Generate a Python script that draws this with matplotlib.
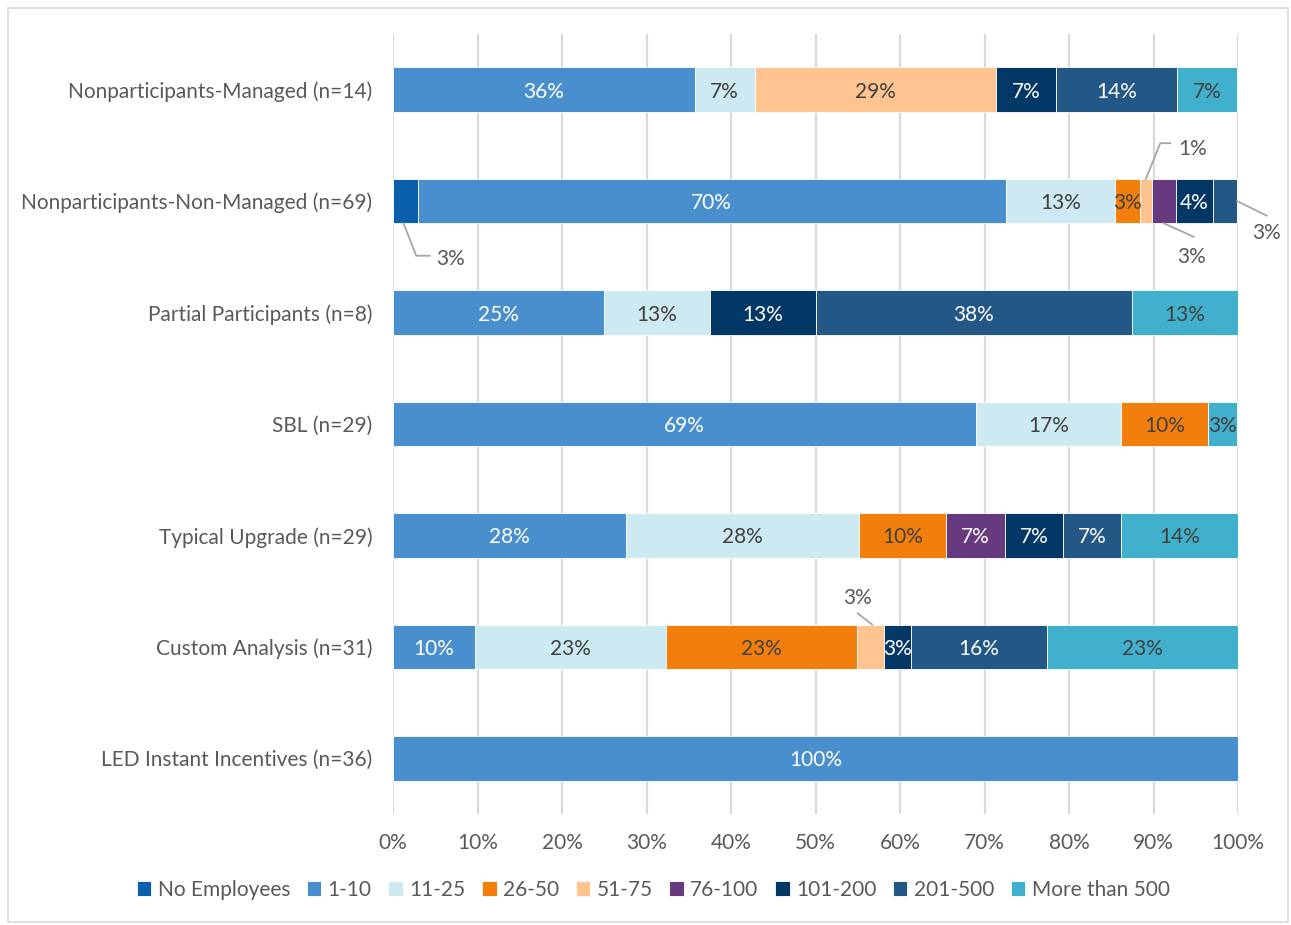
import math
import matplotlib.pyplot as plt
from matplotlib.patches import Rectangle
import numpy as np

plt.rcParams['font.family'] = ['Lato', 'DejaVu Sans']

categories = [
    "Nonparticipants-Managed (n=14)",
    "Nonparticipants-Non-Managed (n=69)",
    "Partial Participants (n=8)",
    "SBL (n=29)",
    "Typical Upgrade (n=29)",
    "Custom Analysis (n=31)",
    "LED Instant Incentives (n=36)",
]

groups = ["No Employees", "1-10", "11-25", "26-50", "51-75",
          "76-100", "101-200", "201-500", "More than 500"]

# share of respondents (%) per employee-size group, one list per category
managed = [0, 35.7, 7.1, 0, 28.6, 0, 7.1, 14.3, 7.1]
non_managed = [2.9, 69.6, 13.0, 2.9, 1.4, 2.9, 4.3, 2.9, 0]
partial = [0, 25.0, 12.5, 0, 0, 0, 12.5, 37.5, 12.5]
sbl = [0, 69.0, 17.2, 10.3, 0, 0, 0, 0, 3.4]
typical = [0, 27.6, 27.6, 10.3, 0, 6.9, 6.9, 6.9, 13.8]
custom = [0, 9.7, 22.6, 22.6, 3.2, 0, 3.2, 16.1, 22.6]
led = [0, 100.0, 0, 0, 0, 0, 0, 0, 0]

colors = ["#0A5FAD", "#4A8FCD", "#CDE9F2", "#F27F0C", "#FFC48F",
          "#673A80", "#033766", "#235785", "#41B0CC"]
text_colors = ["white", "white", "#404040", "#404040", "#404040",
               "white", "white", "white", "#404040"]

# segments labelled outside the bar with a leader line:
# (row, group) -> anchor side, leader points (offsets), label offset, alignment
outside = {
    (1, 0): ("bottom", [(0, 0), (1.5, 0.29), (3.1, 0.29)], (3.9, 0.30), "left"),
    (1, 4): ("top", [(0, 0), (1.7, -0.32), (2.9, -0.32)], (3.8, -0.29), "left"),
    (1, 5): ("bottom", [(0, 0), (3.5, 0.12)], (3.2, 0.28), "center"),
    (1, 7): ("right", [(0, 0), (3.5, 0.13)], (3.5, 0.27), "center"),
    (5, 4): ("top", [(0.2, 0), (-1.5, -0.10)], (-1.5, -0.26), "center"),
}

data = np.array([managed, non_managed, partial, sbl, typical, custom, led])
label_color = "#595959"
fs = 15


def pct(v):
    return f"{math.floor(v + 0.5)}%"


fig = plt.figure(figsize=(12.91, 9.25), dpi=100)
ax = fig.add_axes([393 / 1291, 1 - 814 / 925, 845 / 1291, 780 / 925])

y = np.arange(len(categories))
bar_h = 0.4
left = np.zeros(len(categories))
for j, g in enumerate(groups):
    vals = data[:, j]
    ax.barh(y, vals, left=left, height=bar_h, color=colors[j],
            edgecolor="white", linewidth=0.6, label=g, zorder=3)
    for i, v in enumerate(vals):
        if v <= 0:
            continue
        cx = left[i] + v / 2
        txt = pct(v)
        if (i, j) in outside:
            side, pts, lab, ha = outside[(i, j)]
            if side == "bottom":
                ax0, ay0 = cx - 0.2 if j == 0 else cx, y[i] + bar_h / 2
            elif side == "top":
                ax0, ay0 = cx, y[i] - bar_h / 2
            else:
                ax0, ay0 = left[i] + v, y[i]
            xs = [ax0 + p[0] for p in pts]
            ys = [ay0 + p[1] for p in pts]
            ax.plot(xs, ys, color="#A6A6A6", lw=1.3, clip_on=False, zorder=4)
            ax.text(ax0 + lab[0], ay0 + lab[1], txt, ha=ha, va="center_baseline",
                    fontsize=fs, color=label_color, clip_on=False)
        else:
            ax.text(cx, y[i], txt, ha="center", va="center_baseline",
                    fontsize=fs, color=text_colors[j], zorder=5)
    left += vals

ax.set_xlim(0, 100)
ax.set_ylim(len(categories) - 0.5, -0.5)
ax.set_yticks(y)
ax.set_yticklabels(categories)
ax.set_xticks(np.arange(0, 101, 10))
ax.set_xticklabels([f"{t}%" for t in range(0, 101, 10)])
ax.tick_params(axis="both", length=0, labelsize=fs, labelcolor=label_color)
ax.tick_params(axis="y", pad=15)
ax.tick_params(axis="x", pad=14)
for s in ax.spines.values():
    s.set_visible(False)
ax.xaxis.grid(True, color="#D9D9D9", lw=1.6, zorder=0)
ax.set_axisbelow(True)

fig.legend(loc="center", bbox_to_anchor=(0.506, 1 - 890 / 925), ncol=9,
           frameon=False, fontsize=fs, handlelength=0.7, handleheight=0.7,
           handletextpad=0.3, columnspacing=0.8, labelcolor=label_color)

fig.patches.append(Rectangle((8 / 1291, 1 - 922 / 925), 1280 / 1291, 914 / 925,
                             transform=fig.transFigure, fill=False,
                             edgecolor="#D9D9D9", lw=1.2))

fig.savefig("out.png", dpi=100)
